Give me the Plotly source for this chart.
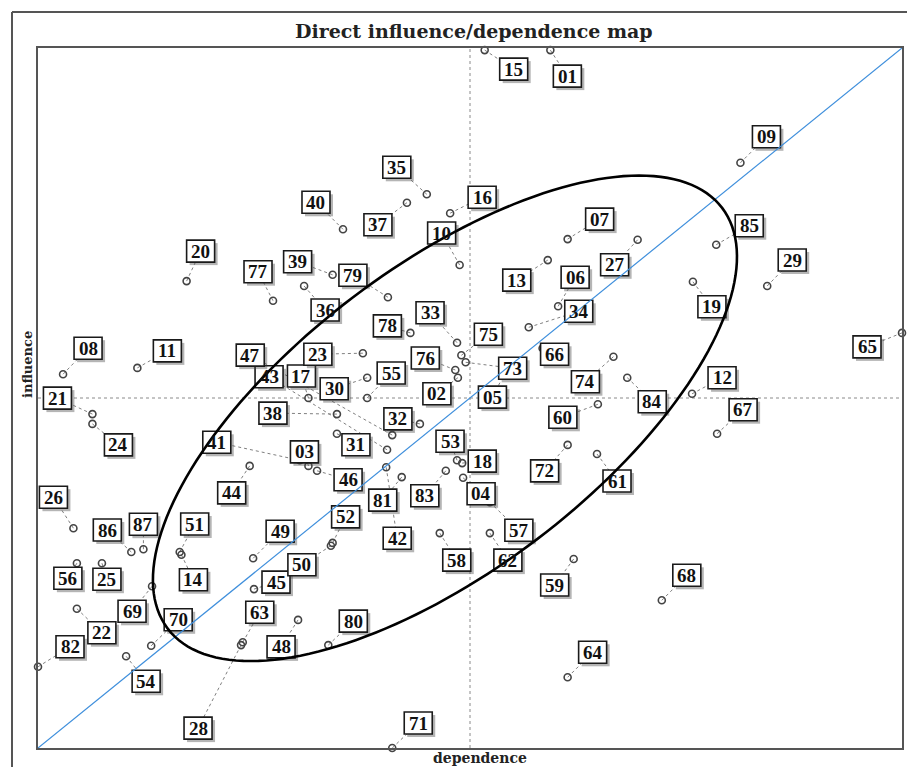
import math
import plotly.graph_objects as go

# ---------------- data (normalised 0-100 scales) ----------------
labels = ["01","02","03","04","05","06","07","08","09","10",
          "11","12","13","14","15","16","17","18","19","20",
          "21","22","23","24","25","26","27","28","29","30",
          "31","32","33","34","35","36","37","38","39","40",
          "41","42","43","44","45","46","47","48","49","50",
          "51","52","53","54","55","56","57","58","59","60",
          "61","62","63","64","65","66","67","68","69","70",
          "71","72","73","74","75","76","77","78","79","80",
          "81","82","83","84","85","86","87"]
dependence = [59.3,48.6,31.3,49.2,54.1,60.2,61.3,2.9,81.3,48.8,
              11.5,75.7,59.0,16.6,51.7,47.7,31.3,49.1,75.8,17.2,
              6.3,4.5,37.6,6.3,7.4,4.1,69.4,23.5,84.4,38.1,
              34.6,44.2,48.5,56.8,45.0,30.8,42.7,34.6,34.1,35.3,
              30.3,40.3,40.4,24.5,25.0,32.3,41.0,30.1,24.9,33.9,
              16.4,34.1,48.5,10.2,38.1,4.5,52.3,46.5,62.0,64.8,
              64.7,52.3,23.7,61.3,100.0,58.4,78.6,72.2,13.2,13.1,
              41.0,61.3,49.5,66.6,49.0,48.3,27.2,43.1,40.5,33.6,
              42.1,0.0,47.2,68.2,78.5,10.8,12.2]
influence = [99.7,52.9,40.3,38.6,53.7,63.1,72.7,53.4,83.6,69.0,
             54.3,50.6,69.7,27.6,99.7,76.4,50.0,40.7,66.6,66.7,
             47.7,19.9,56.4,46.3,26.4,31.4,72.6,14.7,66.0,52.9,
             44.9,46.3,57.9,60.1,79.1,66.0,77.9,47.7,67.6,74.1,
             41.1,40.1,42.6,40.3,22.7,39.6,44.7,18.3,27.1,28.9,
             28.0,29.3,41.1,13.1,50.0,26.4,35.1,30.7,27.0,49.1,
             42.0,30.7,15.1,10.1,59.3,57.1,44.9,21.1,23.1,14.6,
             0.0,43.3,55.1,55.9,56.1,54.0,63.9,59.3,64.4,14.7,
             38.7,11.6,39.6,52.9,71.9,28.0,28.4]

# ---------------- label placement (pixel offsets from point) ----------------
label_dx = [17,-21,-4,18,-13,17,32,25,26,-18,
            30,30,-31,12,29,32,-7,20,19,14,
            -35,25,-45,26,5,-20,-23,-43,25,-33,
            19,-22,-27,50,-30,21,-29,-64,-35,-27,
            -83,11,-118,-18,22,31,-142,-17,27,-29,
            15,13,-7,20,24,-9,29,17,-19,-35,
            20,18,17,25,-35,12,26,25,-20,27,
            26,-23,47,-28,27,-30,-15,-23,-35,25,
            -19,32,-21,25,33,-24,0]
label_dy = [26,16,-14,16,25,-29,-20,-26,-26,-32,
            -17,-16,20,25,19,-16,-22,-2,25,-30,
            -16,24,1,21,16,-31,25,83,-26,11,
            11,-5,-30,-16,-27,24,22,-1,-13,-27,
            -18,71,-73,27,-7,9,-80,27,-27,19,
            -28,-26,-19,25,-25,15,28,27,26,13,
            27,27,-30,-25,14,6,-24,-25,25,-26,
            -25,26,6,25,-21,-12,-29,-7,-22,-24,
            23,-20,25,24,-19,-22,-25]

# ---------------- layout geometry ----------------
OFF = 8                      # page body margin
W, H = 915, 767
ML, MT = 38 - OFF, 48 - OFF
PW, PH = 864, 700
MR = W - ML - PW
MB = H - MT - PH
SX, SY = PW / 100.0, PH / 100.0   # pixels per unit

SERIF = "Liberation Serif, Times New Roman, serif"
WIDE_SERIF = "DejaVu Serif, serif"

fig = go.Figure()

# leader lines (dotted)
lx, ly = [], []
for x, y, dx, dy in zip(dependence, influence, label_dx, label_dy):
    lx += [x, x + dx / SX, None]
    ly += [y, y - dy / SY, None]
fig.add_trace(go.Scatter(x=lx, y=ly, mode="lines",
                         line=dict(color="#808080", width=1, dash="dot"),
                         hoverinfo="skip", showlegend=False, cliponaxis=False))

# points
fig.add_trace(go.Scatter(x=dependence, y=influence, mode="markers",
                         marker=dict(symbol="circle-open", size=7, color="#444444",
                                     line=dict(color="#444444", width=1.6)),
                         text=labels, hoverinfo="text", showlegend=False,
                         cliponaxis=False))

shapes = []
# mean cross lines
shapes.append(dict(type="line", xref="x", yref="y", x0=50, x1=50, y0=0, y1=100,
                   line=dict(color="#8a8a8a", width=1, dash="dot"), layer="below"))
shapes.append(dict(type="line", xref="x", yref="y", x0=0, x1=100, y0=50, y1=50,
                   line=dict(color="#8a8a8a", width=1, dash="dot"), layer="below"))

BW, BH = 28, 22
for x, y, dx, dy in zip(dependence, influence, label_dx, label_dy):
    # shadow
    shapes.append(dict(type="rect", xref="x", yref="y", xsizemode="pixel", ysizemode="pixel",
                       xanchor=x, yanchor=y,
                       x0=dx - BW / 2 + 3, x1=dx + BW / 2 + 3,
                       y0=-dy - BH / 2 - 3, y1=-dy + BH / 2 - 3,
                       fillcolor="rgba(70,70,70,0.4)", line=dict(width=0), layer="above"))
    # box
    shapes.append(dict(type="rect", xref="x", yref="y", xsizemode="pixel", ysizemode="pixel",
                       xanchor=x, yanchor=y,
                       x0=dx - BW / 2, x1=dx + BW / 2,
                       y0=-dy - BH / 2, y1=-dy + BH / 2,
                       fillcolor="white", line=dict(color="#1a1a1a", width=1.6), layer="above"))

# diagonal
shapes.append(dict(type="line", xref="x", yref="y", x0=0, y0=0, x1=100, y1=100,
                   line=dict(color="#3f8fdc", width=1.2), layer="above"))

# ellipse highlighting the cluster
ecx, ecy = 47.1, 47.1          # centre (data units)
ea, eb, eth = 348, 152, math.radians(37.2)   # semi-axes in px, tilt
pts = []
for i in range(181):
    t = 2 * math.pi * i / 180
    px = ea * math.cos(t) * math.cos(eth) - eb * math.sin(t) * math.sin(eth)
    py = ea * math.cos(t) * math.sin(eth) + eb * math.sin(t) * math.cos(eth)
    pts.append((ecx + px / SX, ecy + py / SY))
path = "M " + " L ".join(f"{a:.3f},{b:.3f}" for a, b in pts) + " Z"
shapes.append(dict(type="path", xref="x", yref="y", path=path,
                   line=dict(color="black", width=2.6), layer="above"))

# helpers: page pixel -> paper coords
def px2paperx(px):
    return (px - OFF - ML) / PW
def py2papery(py):
    return (H - MB - (py - OFF)) / PH

# outer frame (top and left edges)
shapes.append(dict(type="line", xref="paper", yref="paper",
                   x0=px2paperx(12), x1=px2paperx(915), y0=py2papery(12), y1=py2papery(12),
                   line=dict(color="#555", width=2), layer="below"))
shapes.append(dict(type="line", xref="paper", yref="paper",
                   x0=px2paperx(12), x1=px2paperx(12), y0=py2papery(12), y1=py2papery(800),
                   line=dict(color="#555", width=2), layer="below"))

annotations = []
for x, y, dx, dy, lab in zip(dependence, influence, label_dx, label_dy, labels):
    annotations.append(dict(x=x, y=y, xref="x", yref="y", text="<b>" + lab + "</b>",
                            showarrow=False, xshift=dx, yshift=-dy,
                            font=dict(family=SERIF, size=19, color="#111"),
                            xanchor="center", yanchor="middle"))

annotations.append(dict(x=px2paperx(474), y=py2papery(31), xref="paper", yref="paper",
                        text="<b>Direct influence/dependence map</b>", showarrow=False,
                        font=dict(family=WIDE_SERIF, size=19, color="#222"),
                        xanchor="center", yanchor="middle"))
annotations.append(dict(x=px2paperx(27), y=py2papery(365), xref="paper", yref="paper",
                        text="<b>influence</b>", showarrow=False, textangle=-90,
                        font=dict(family=WIDE_SERIF, size=13, color="#222"),
                        xanchor="center", yanchor="middle"))
annotations.append(dict(x=px2paperx(480), y=py2papery(758), xref="paper", yref="paper",
                        text="<b>dependence</b>", showarrow=False,
                        font=dict(family=WIDE_SERIF, size=14, color="#222"),
                        xanchor="center", yanchor="middle"))

fig.update_layout(
    width=W, height=H,
    margin=dict(l=ML, r=MR, t=MT, b=MB),
    paper_bgcolor="white", plot_bgcolor="white",
    shapes=shapes, annotations=annotations,
    showlegend=False,
    xaxis=dict(range=[0, 100], showgrid=False, zeroline=False, showticklabels=False,
               ticks="", showline=True, mirror=True, linecolor="#555", linewidth=2),
    yaxis=dict(range=[0, 100], showgrid=False, zeroline=False, showticklabels=False,
               ticks="", showline=True, mirror=True, linecolor="#555", linewidth=2),
)

fig.write_html("out.html")
